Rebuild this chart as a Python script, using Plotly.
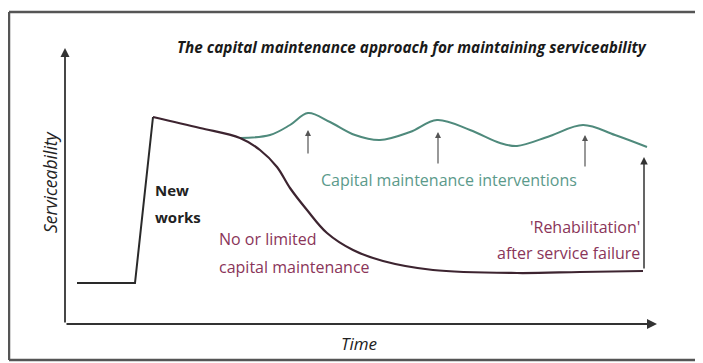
import plotly.graph_objects as go

# conceptual coordinates: time from the origin, serviceability above the time axis
new_works_t = [12, 70, 88]
new_works_s = [41, 41, 207]

no_maint_t = [88, 135, 175, 195, 212, 225, 242, 262, 288, 318, 368, 452, 515, 578]
no_maint_s = [207, 196, 186, 174, 157, 136, 114, 91, 74, 63, 54, 51, 52, 53]

maint_t = [175, 205, 225, 243, 265, 290, 315, 345, 372, 405, 435, 452, 485, 518, 550, 582]
maint_s = [186, 189, 199, 211, 202, 189, 184, 192, 204, 194, 181, 178, 188, 199, 189, 177]

# intervention arrows: time, tail, head
interv_t = [243, 373, 520]
interv_from = [169, 159, 156]
interv_to = [194, 192, 189]

rehab_t = 579
rehab_from = 54
rehab_to = 167

GREEN = "#5b9a8b"
MAROON = "#8a3559"
DARK = "#2a2a2a"
FONT = "Open Sans"

fig = go.Figure()

fig.add_trace(go.Scatter(x=new_works_t, y=new_works_s, mode="lines",
                         line=dict(color=DARK, width=2)))
fig.add_trace(go.Scatter(x=maint_t, y=maint_s, mode="lines",
                         line=dict(color="#4f8a7c", width=2, shape="spline", smoothing=1)))
fig.add_trace(go.Scatter(x=no_maint_t, y=no_maint_s, mode="lines",
                         line=dict(color="#3d2430", width=2.2, shape="spline", smoothing=1)))

anns = []
# axes with arrows
anns.append(dict(x=0, y=276, ax=0, ay=0, xref="x", yref="y", axref="x", ayref="y",
                 showarrow=True, arrowhead=2, arrowsize=1, arrowwidth=1.8, arrowcolor="#333", text=""))
anns.append(dict(x=592, y=0, ax=0, ay=0, xref="x", yref="y", axref="x", ayref="y",
                 showarrow=True, arrowhead=2, arrowsize=1, arrowwidth=2, arrowcolor="#333", text=""))
for t, a, b in zip(interv_t, interv_from, interv_to):
    anns.append(dict(x=t, y=b, ax=t, ay=a, xref="x", yref="y", axref="x", ayref="y",
                     showarrow=True, arrowhead=2, arrowsize=1, arrowwidth=1.2, arrowcolor="#555", text=""))
anns.append(dict(x=rehab_t, y=rehab_to, ax=rehab_t, ay=rehab_from, xref="x", yref="y", axref="x", ayref="y",
                 showarrow=True, arrowhead=2, arrowsize=1, arrowwidth=1.5, arrowcolor="#333", text=""))

def label(x, y, text, color, size=16, xanchor="center", style="normal", weight=400):
    anns.append(dict(x=x, y=y, xref="x", yref="y", text=text, showarrow=False,
                     xanchor=xanchor, yanchor="middle",
                     font=dict(family=FONT, size=size, color=color, style=style, weight=weight)))

label(347, 277, "The capital maintenance approach for maintaining serviceability", "#1a1a1a",
      size=15.3, style="italic", weight=700)
label(88, 134, "New", "#222", size=15, xanchor="left", weight=700)
label(88, 107, "works", "#222", size=15, xanchor="left", weight=700)
label(152, 85, "No or limited", MAROON, size=16, xanchor="left")
label(152, 57, "capital maintenance", MAROON, size=16, xanchor="left")
label(384, 144, "Capital maintenance interventions", GREEN, size=16)
label(577, 97, "'Rehabilitation'", MAROON, size=16, xanchor="right")
label(577, 71, "after service failure", MAROON, size=16, xanchor="right")
label(294, -19, "Time", "#222", size=17, style="italic")
anns.append(dict(x=-15, y=142, xref="x", yref="y", text="Serviceability", showarrow=False, textangle=-90,
                 font=dict(family=FONT, size=17.5, color="#222", style="italic")))

# frame: top, left and bottom edges (the right edge is cut off in the original)
frame = dict(color="#555", width=2.5)
shapes = [
    dict(type="line", xref="paper", yref="paper", x0=1 / 695, x1=1, y0=351 / 355, y1=351 / 355, line=frame),
    dict(type="line", xref="paper", yref="paper", x0=1 / 695, x1=1 / 695, y0=3 / 355, y1=351 / 355, line=frame),
    dict(type="line", xref="paper", yref="paper", x0=1 / 695, x1=1, y0=3 / 355, y1=3 / 355, line=frame),
]

# the page body keeps an 8px margin, so the figure is 8px smaller and shifted
fig.update_layout(
    width=695, height=355,
    margin=dict(l=0, r=0, t=0, b=0),
    paper_bgcolor="white", plot_bgcolor="white",
    showlegend=False,
    xaxis=dict(range=[-57, 638], visible=False),
    yaxis=dict(range=[-39, 316], visible=False),
    annotations=anns,
    shapes=shapes,
)

fig.write_html("out.html")
